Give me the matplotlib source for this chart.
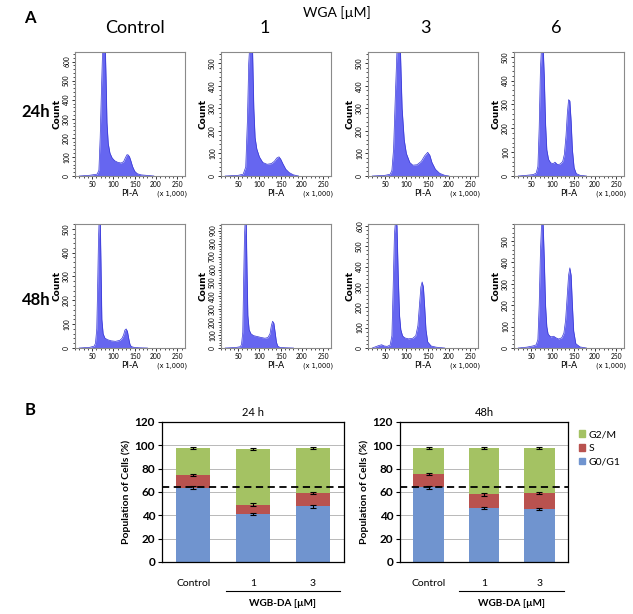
import matplotlib
matplotlib.use('Agg')
import matplotlib.pyplot as plt
from matplotlib.ticker import MultipleLocator
from matplotlib.patches import Patch
import matplotlib.transforms as mtransforms

W, H = 633, 614
plt.rcParams['font.family'] = ['Lato', 'DejaVu Sans']

# ---- panel A: PI-A histograms (x in units of 1,000), counts ----
pi_24_ctrl = [20, 45, 62, 66, 69, 72, 75, 78, 81, 83, 85, 88, 92, 97, 103, 110, 118, 124, 128, 132, 135, 138, 141, 145, 150, 156, 165, 180, 195]
cnt_24_ctrl = [0, 4, 10, 30, 200, 450, 680, 700, 680, 500, 280, 170, 120, 95, 80, 72, 68, 75, 95, 112, 110, 100, 80, 50, 25, 12, 6, 3, 0]

pi_24_1 = [20, 50, 62, 68, 72, 75, 78, 81, 84, 87, 90, 94, 100, 108, 118, 128, 135, 141, 146, 150, 155, 162, 170, 180, 192]
cnt_24_1 = [0, 3, 8, 40, 250, 500, 600, 600, 560, 300, 170, 120, 85, 60, 52, 55, 65, 80, 85, 75, 55, 30, 15, 5, 0]

pi_24_3 = [20, 50, 62, 66, 70, 74, 78, 82, 86, 90, 95, 100, 108, 115, 125, 135, 143, 150, 155, 160, 168, 178, 190, 200]
cnt_24_3 = [0, 3, 8, 25, 120, 350, 560, 600, 560, 300, 160, 100, 60, 48, 50, 65, 90, 105, 92, 60, 30, 12, 3, 0]

pi_24_6 = [20, 40, 55, 62, 66, 69, 72, 75, 78, 81, 84, 87, 91, 96, 102, 106, 112, 118, 124, 128, 132, 135, 138, 141, 144, 147, 151, 156, 165, 180]
cnt_24_6 = [0, 3, 6, 12, 40, 200, 450, 560, 560, 420, 220, 110, 70, 55, 52, 58, 48, 50, 60, 90, 170, 260, 320, 315, 230, 110, 35, 10, 3, 0]

pi_48_ctrl = [20, 45, 55, 58, 61, 63, 65, 67, 69, 71, 73, 76, 80, 86, 95, 105, 115, 120, 124, 127, 130, 133, 136, 139, 142, 148, 160, 180]
cnt_48_ctrl = [0, 3, 8, 20, 80, 250, 450, 560, 560, 350, 120, 60, 42, 35, 30, 28, 32, 40, 55, 75, 80, 70, 40, 15, 6, 3, 1, 0]

pi_48_1 = [20, 45, 55, 58, 61, 63, 65, 67, 69, 71, 73, 76, 80, 86, 95, 105, 113, 120, 125, 128, 131, 134, 137, 140, 143, 148, 160, 180]
cnt_48_1 = [0, 4, 10, 25, 120, 500, 850, 1000, 1000, 600, 250, 140, 110, 95, 88, 80, 75, 80, 110, 170, 205, 190, 120, 45, 15, 5, 2, 0]

pi_48_3 = [20, 35, 42, 48, 55, 62, 66, 69, 72, 75, 78, 81, 84, 87, 91, 96, 105, 115, 122, 127, 131, 134, 137, 140, 143, 146, 150, 158, 170, 190]
cnt_48_3 = [0, 12, 16, 10, 8, 15, 60, 300, 560, 640, 600, 350, 160, 90, 60, 50, 45, 48, 60, 110, 220, 300, 325, 300, 200, 90, 30, 10, 4, 0]

pi_48_6 = [20, 40, 55, 62, 66, 69, 72, 75, 78, 81, 84, 87, 90, 96, 103, 108, 115, 122, 127, 131, 135, 138, 141, 144, 147, 150, 155, 165, 180]
cnt_48_6 = [0, 4, 10, 15, 40, 200, 450, 600, 600, 420, 200, 100, 65, 52, 55, 48, 42, 48, 70, 130, 250, 340, 375, 340, 200, 80, 20, 5, 0]

col_titles = ['Control', '1', '3', '6']
row_titles = ['24h', '48h']

# ---- panel B: cell-cycle distribution (%) ----
groups = ['Control', '1', '3']
g0g1_24 = [63.8, 41.0, 47.7]
s_24 = [10.8, 8.2, 11.3]
g2m_24 = [23.4, 47.7, 39.0]
g0g1_48 = [64.0, 46.5, 45.6]
s_48 = [11.2, 11.5, 13.6]
g2m_48 = [22.5, 39.7, 38.5]
err_g0g1 = [1.0, 1.0, 1.0]
err_s = [1.0, 1.0, 1.0]
err_tot = [1.0, 1.0, 1.0]
ref_line = 64

fig = plt.figure(figsize=(W / 100, H / 100), dpi=100)


def px_axes(left, top, width, height):
    return fig.add_axes([left / W, 1 - (top + height) / H, width / W, height / H])


hists = [
    [(pi_24_ctrl, cnt_24_ctrl, 650), (pi_24_1, cnt_24_1, 550), (pi_24_3, cnt_24_3, 550), (pi_24_6, cnt_24_6, 520)],
    [(pi_48_ctrl, cnt_48_ctrl, 520), (pi_48_1, cnt_48_1, 950), (pi_48_3, cnt_48_3, 610), (pi_48_6, cnt_48_6, 580)],
]
hist_lefts = [75, 221, 368, 514]
hist_tops = [52, 224]

for r in range(2):
    for c in range(4):
        xs, ys, ymax = hists[r][c]
        ax = px_axes(hist_lefts[c], hist_tops[r], 110, 124)
        ax.fill_between(xs, ys, color='#6666f0', lw=0)
        ax.plot(xs, ys, color='#3535d5', lw=0.5)
        ax.set_xlim(10, 268)
        ax.set_ylim(0, ymax)
        ax.set_xticks([50, 100, 150, 200, 250])
        ax.xaxis.set_minor_locator(MultipleLocator(10))
        ax.yaxis.set_major_locator(MultipleLocator(100))
        ax.yaxis.set_minor_locator(MultipleLocator(20))
        ax.tick_params(direction='out', length=2.5, width=0.7, labelsize=4.8,
                       color='#333333', pad=1)
        ax.tick_params(which='minor', direction='out', length=1.6, width=0.6, color='#333333')
        ax.tick_params(axis='y', labelrotation=90)
        plt.setp(ax.get_yticklabels(), va='center')
        for sp in ax.spines.values():
            sp.set_color('#8a8a8a')
            sp.set_linewidth(0.8)
        ax.set_ylabel('Count', fontsize=6.5, fontweight='bold', labelpad=1, family='DejaVu Sans')
        ax.set_xlabel('PI-A', fontsize=6.5, labelpad=1, family='DejaVu Sans')
        ax.text(1.02, -0.12, '(x 1,000)', transform=ax.transAxes, fontsize=4.8,
                ha='right', va='top', family='DejaVu Sans')

# panel A labels
fig.text(30 / W, 1 - 18 / H, 'A', fontsize=12, fontweight='bold', ha='center', va='center')
fig.text(337 / W, 1 - 13 / H, 'WGA [\u00b5M]', fontsize=10, ha='center', va='center')
for x, t in zip([135, 265, 425, 556], col_titles):
    fig.text(x / W, 1 - 28 / H, t, fontsize=13, ha='center', va='center')
for y, t in zip([112, 300], row_titles):
    fig.text(36 / W, 1 - y / H, t, fontsize=12, fontweight='bold', ha='center', va='center')

# ---- panel B ----
c_g0 = '#7094cf'
c_s = '#b9524f'
c_g2 = '#a4c263'


def stacked(ax, g0, s, g2, title):
    xs = range(len(groups))
    ax.set_axisbelow(True)
    ax.yaxis.grid(True, color='#b8b8b8', lw=0.7)
    ax.bar(xs, g0, width=0.56, color=c_g0, label='G0/G1')
    ax.bar(xs, s, width=0.56, bottom=g0, color=c_s, label='S')
    bot_g2 = [a + b for a, b in zip(g0, s)]
    ax.bar(xs, g2, width=0.56, bottom=bot_g2, color=c_g2, label='G2/M')
    tot = [a + b for a, b in zip(bot_g2, g2)]
    eb = dict(fmt='none', ecolor='black', elinewidth=0.8, capsize=2, capthick=0.8)
    ax.errorbar(xs, g0, yerr=err_g0g1, **eb)
    ax.errorbar(xs, bot_g2, yerr=err_s, **eb)
    ax.errorbar(xs, tot, yerr=err_tot, **eb)
    ax.axhline(ref_line, color='black', ls=(0, (4, 2.5)), lw=1.3)
    ax.set_xlim(-0.52, 2.52)
    ax.set_ylim(0, 120)
    ax.yaxis.set_major_locator(MultipleLocator(20))
    ax.set_xticks([])
    ax.tick_params(axis='y', length=3, width=0.8, labelsize=8.5, pad=2)
    for lbl in ax.get_yticklabels():
        lbl.set_fontweight('bold')
    for sp in ax.spines.values():
        sp.set_color('black')
        sp.set_linewidth(0.9)
    ax.set_ylabel('Population of Cells (%)', fontsize=7.5, fontweight='bold', labelpad=3)
    ax.set_title(title, fontsize=8, pad=4)
    tr = mtransforms.blended_transform_factory(ax.transData, ax.transAxes)
    for i, g in enumerate(groups):
        ax.text(i, -0.15, g, transform=tr, fontsize=7.5, ha='center', va='center')
    ax.plot([0.55, 2.45], [-0.207, -0.207], transform=tr, color='black', lw=0.8, clip_on=False)
    ax.text(1.5, -0.295, 'WGB-DA [\u00b5M]', transform=tr, fontsize=7.2,
            fontweight='bold', ha='center', va='center')


axL = px_axes(162, 422, 182, 140)
stacked(axL, g0g1_24, s_24, g2m_24, '24 h')
axR = px_axes(400, 422, 168, 140)
stacked(axR, g0g1_48, s_48, g2m_48, '48h')

handles = [Patch(color=c_g2, label='G2/M'), Patch(color=c_s, label='S'), Patch(color=c_g0, label='G0/G1')]
axR.legend(handles=handles, loc='upper left', bbox_to_anchor=(1.04, 0.97), frameon=False,
           fontsize=7.5, handlelength=0.6, handleheight=0.6, handletextpad=0.3,
           labelspacing=0.45, borderaxespad=0)

fig.text(30 / W, 1 - 410 / H, 'B', fontsize=12, fontweight='bold', ha='center', va='center')

fig.savefig('out.png', dpi=100)
